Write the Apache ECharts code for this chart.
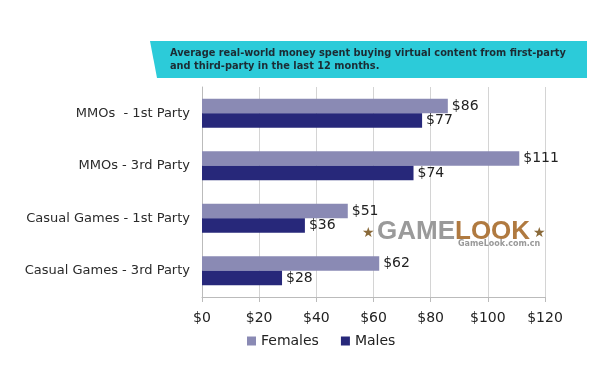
<!DOCTYPE html>
<html>
<head>
<meta charset="utf-8">
<script src="https://cdn.jsdelivr.net/npm/echarts@6/dist/echarts.min.js"></script>
<style>
  html, body { margin: 0; padding: 0; background: #fff; }
  #chart { width: 600px; height: 377px; }
</style>
</head>
<body>
<div id="chart"></div>
<script>
// categories top to bottom
const categories = [
  "MMOs  - 1st Party",
  "MMOs - 3rd Party",
  "Casual Games - 1st Party",
  "Casual Games - 3rd Party"
];
const females = [86, 111, 51, 62];
const males = [77, 74, 36, 28];
const xTicks = [0, 20, 40, 60, 80, 100, 120];

const FONT = "DejaVu Sans, Verdana, sans-serif";
const WM_FONT = "Liberation Sans, Arial, sans-serif";

const chart = echarts.init(document.getElementById("chart"));

const barLabel = {
  show: true,
  position: "right",
  distance: 4,
  fontFamily: FONT,
  fontSize: 14,
  color: "#222",
  formatter: (p) => "$" + p.value
};

const option = {
  animation: false,
  grid: { left: 202, right: 55, top: 87, bottom: 80, containLabel: false },
  legend: {
    data: ["Females", "Males"],
    left: 242,
    top: 329,
    icon: "rect",
    itemWidth: 9,
    itemHeight: 9,
    itemGap: 22,
    textStyle: { fontFamily: FONT, fontSize: 14, color: "#222" }
  },
  xAxis: {
    type: "value",
    min: xTicks[0],
    max: xTicks[xTicks.length - 1],
    interval: 20,
    axisLine: { show: true, lineStyle: { color: "#bbb" } },
    axisTick: { show: true, length: 5, lineStyle: { color: "#bbb" } },
    splitLine: { show: true, lineStyle: { color: "#d4d4d4" } },
    axisLabel: {
      fontFamily: FONT, fontSize: 14, color: "#222", margin: 14,
      formatter: (v) => "$" + v
    }
  },
  yAxis: {
    type: "category",
    inverse: true,
    data: categories,
    axisLine: { show: true, lineStyle: { color: "#bbb" } },
    axisTick: { show: false },
    axisLabel: { fontFamily: FONT, fontSize: 13, color: "#2a2a2a", margin: 12 }
  },
  series: [
    {
      name: "Females",
      type: "bar",
      data: females,
      barWidth: 14.5,
      barGap: "0%",
      itemStyle: { color: "#8a8ab4" },
      label: barLabel
    },
    {
      name: "Males",
      type: "bar",
      data: males,
      barWidth: 14.5,
      barGap: "0%",
      itemStyle: { color: "#27287a" },
      label: barLabel
    }
  ],
  graphic: [
    {
      type: "polygon",
      shape: { points: [[150, 41], [587, 41], [587, 78], [157, 78]] },
      style: { fill: "#2ccbd9" },
      z: 10
    },
    {
      type: "text",
      left: 170,
      top: 47,
      z: 11,
      style: {
        text: "Average real-world money spent buying virtual content from first-party\nand third-party in the last 12 months.",
        font: "bold 9.8px " + FONT,
        lineHeight: 13,
        fill: "#1c2b33"
      }
    },
    // watermark
    {
      type: "text", left: 362, top: 226, z: 12,
      style: { text: "★", font: "14px " + FONT, fill: "#8a6a3a" }
    },
    {
      type: "text", left: 377, top: 219, z: 12,
      style: { text: "GAME", font: "bold 26px " + WM_FONT, fill: "#9a9a9a" }
    },
    {
      type: "text", left: 455, top: 219, z: 12,
      style: { text: "LOOK", font: "bold 26px " + WM_FONT, fill: "#b07a40" }
    },
    {
      type: "text", left: 533, top: 226, z: 12,
      style: { text: "★", font: "14px " + FONT, fill: "#8a6a3a" }
    },
    {
      type: "text", left: 458, top: 240, z: 12,
      style: { text: "GameLook.com.cn", font: "bold 8px " + FONT, fill: "#999" }
    }
  ]
};

chart.setOption(option);
</script>
</body>
</html>
